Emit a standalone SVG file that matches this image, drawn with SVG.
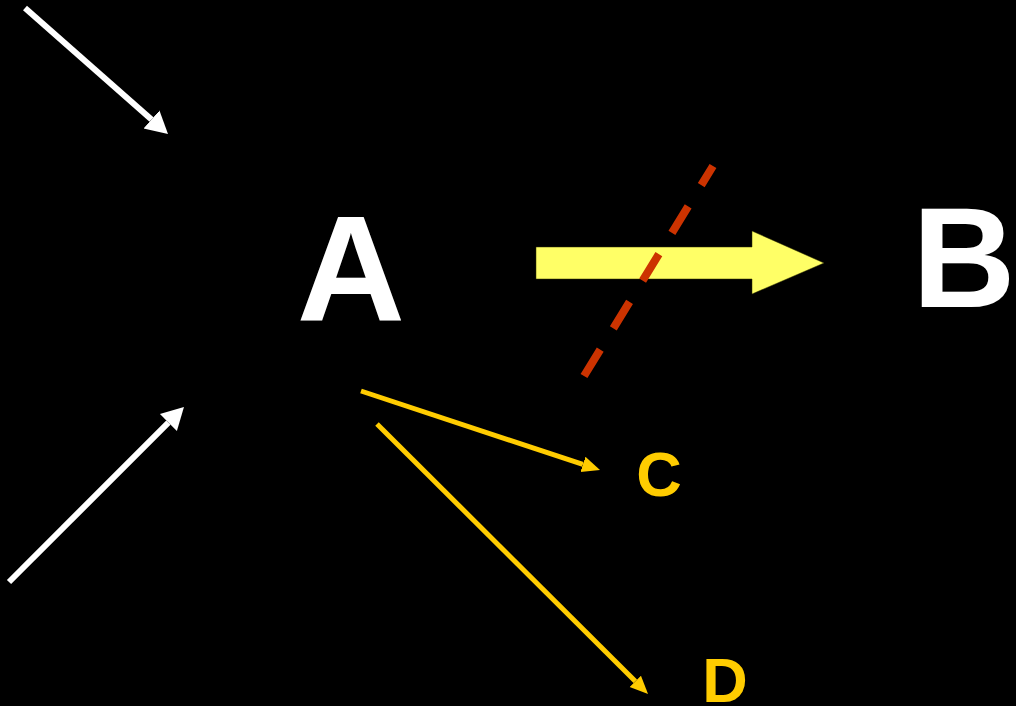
<svg xmlns="http://www.w3.org/2000/svg" width="1016" height="706" viewBox="0 0 1016 706">
  <defs>
    <style>
      .lbl { font-family: "Liberation Sans", Arial, sans-serif; font-weight: bold; text-anchor: middle; }
      .big { fill: #ffffff; }
      .small { fill: #ffcc00; font-size: 63px; }
      .w { stroke: #ffffff; stroke-width: 6; fill: none; }
      .y { stroke: #ffcc00; stroke-width: 5; fill: none; }
    </style>
    <marker id="headW" markerUnits="userSpaceOnUse" markerWidth="24" markerHeight="26" viewBox="0 -13 24 26" refX="0" refY="0" orient="auto">
      <path d="M0,-12 L22,0 L0,12 z" fill="#ffffff"/>
    </marker>
    <marker id="headY" markerUnits="userSpaceOnUse" markerWidth="20" markerHeight="18" viewBox="0 -9 20 18" refX="0" refY="0" orient="auto">
      <path d="M0,-8 L18,0 L0,8 z" fill="#ffcc00"/>
    </marker>
  </defs>
  <rect x="0" y="0" width="1016" height="706" fill="#000000"/>

  <g id="connectors">
    <line class="w" x1="25" y1="8" x2="151.5" y2="119.5" marker-end="url(#headW)"/>
    <line class="w" x1="9" y1="582" x2="168.4" y2="422.6" marker-end="url(#headW)"/>
    <line class="y" x1="361" y1="391" x2="582.9" y2="464.4" marker-end="url(#headY)"/>
    <line class="y" x1="377" y1="424" x2="635.3" y2="681.3" marker-end="url(#headY)"/>
    <polygon id="bigArrow" points="536,247 752,247 752,231 824,263 752,294 752,279 536,279" fill="#ffff66" stroke="#333300" stroke-width="0.5"/>
    <line x1="584" y1="376" x2="713" y2="166" stroke="#cc3300" stroke-width="8" stroke-dasharray="31 25"/>
  </g>

  <g id="node-A"><text class="lbl big" x="351" y="320" font-size="150">A</text></g>
  <g id="node-B"><text class="lbl big" x="964" y="307" font-size="143">B</text></g>
  <g id="node-C"><text class="lbl small" x="659" y="496">C</text></g>
  <g id="node-D"><text class="lbl small" x="725" y="702">D</text></g>
</svg>
